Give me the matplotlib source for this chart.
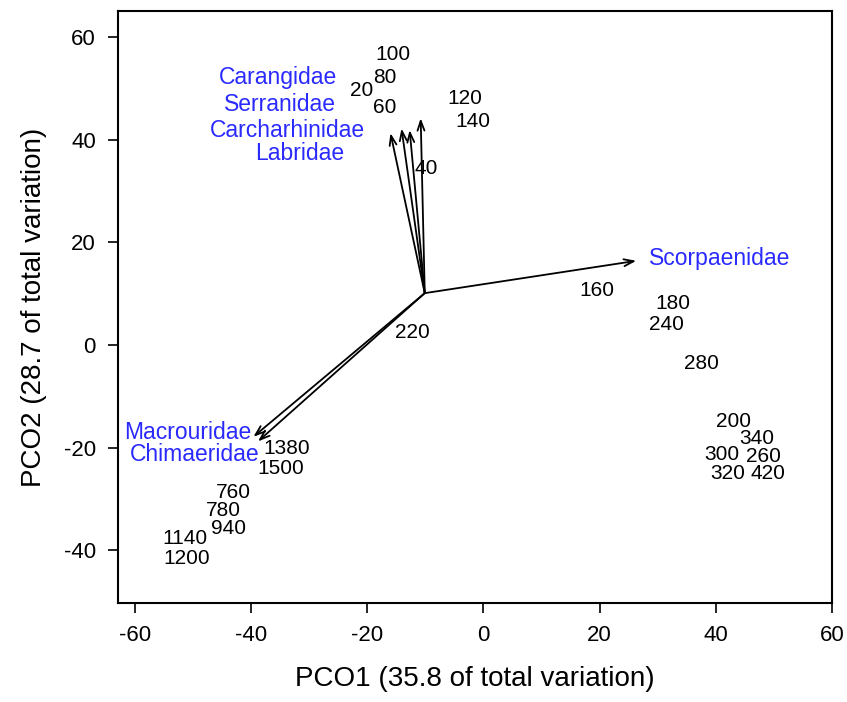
import numpy as np
import matplotlib
matplotlib.use('Agg')
import matplotlib.pyplot as plt

plt.rcParams['font.family'] = ['Liberation Sans', 'DejaVu Sans']
plt.rcParams['axes.unicode_minus'] = False

# Sample scores (labels are depths)
sample_labels = ['20', '40', '60', '80', '100', '120', '140', '160', '180', '200',
                 '220', '240', '260', '280', '300', '320', '340', '420',
                 '760', '780', '940', '1140', '1200', '1380', '1500']
pco1 = [-21.0, -9.8, -17.0, -17.0, -15.6, -3.2, -1.8, 19.5, 32.6, 43.0,
        -12.3, 31.5, 48.2, 37.6, 41.0, 42.1, 47.0, 49.0,
        -43.0, -44.8, -43.8, -51.4, -51.0, -33.9, -34.9]
pco2 = [49.7, 34.4, 46.3, 52.2, 56.7, 48.1, 43.5, 10.7, 8.0, -14.9,
        2.4, 4.0, -21.8, -3.6, -21.4, -25.0, -18.2, -25.0,
        -28.8, -32.2, -35.7, -37.7, -41.6, -20.1, -24.1]

# Vector overlay (family correlations)
origin = (-10.1, 10.1)
families = ['Carangidae', 'Serranidae', 'Carcharhinidae', 'Labridae',
            'Scorpaenidae', 'Macrouridae', 'Chimaeridae']
vec_x = [-16.0, -14.1, -12.7, -10.8, 26.3, -39.6, -38.8]
vec_y = [41.3, 42.2, 41.9, 44.2, 16.4, -17.9, -18.8]
fam_x = [-35.4, -35.0, -33.8, -31.6, 40.7, -50.9, -49.7]
fam_y = [52.2, 46.8, 41.9, 37.4, 16.8, -17.0, -21.4]

fig = plt.figure(figsize=(8.47, 7.02), dpi=100)
ax = fig.add_axes([118 / 847, 1 - 603 / 702, (832 - 118) / 847, (603 - 11) / 702])

# arrows
for vx, vy in zip(vec_x, vec_y):
    ax.annotate('', xy=(vx, vy), xytext=origin,
                arrowprops=dict(arrowstyle='->,head_length=0.7,head_width=0.25',
                                color='black', lw=1.3, shrinkA=0, shrinkB=0))

# family names
for name, fx, fy in zip(families, fam_x, fam_y):
    ax.text(fx, fy, name, color='#2a2aff', fontsize=16.5, ha='center', va='center')

# sample labels
for lab, x, y in zip(sample_labels, pco1, pco2):
    ax.text(x, y, lab, color='black', fontsize=15, ha='center', va='center')

ax.set_xlim(-62.9, 60)
ax.set_ylim(-50.3, 65.1)
ax.set_xticks(np.arange(-60, 61, 20))
ax.set_yticks(np.arange(-40, 61, 20))
ax.tick_params(direction='out', length=7, width=1.2, labelsize=16, pad=9)
for s in ax.spines.values():
    s.set_linewidth(1.5)

ax.set_xlabel('PCO1 (35.8 of total variation)', fontsize=20, labelpad=14)
ax.set_ylabel('PCO2 (28.7 of total variation)', fontsize=20, labelpad=12)

fig.savefig('out.png', dpi=100)
